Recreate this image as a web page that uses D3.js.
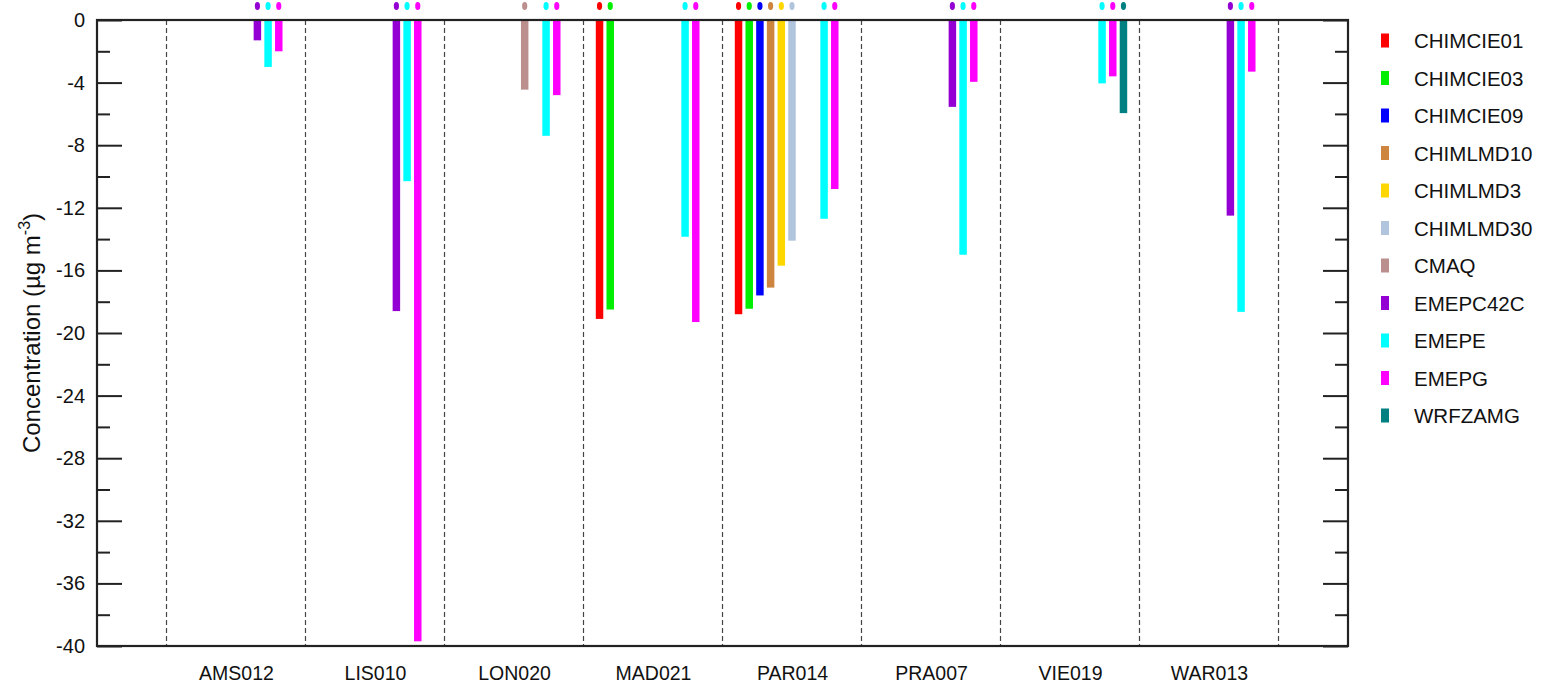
<!DOCTYPE html>
<html>
<head>
<meta charset="utf-8">
<script src="https://d3js.org/d3.v7.min.js"></script>
<style>
  body { margin: 0; background: #fff; }
  svg { font-family: "Liberation Sans", Arial, Helvetica, sans-serif; }
</style>
</head>
<body>
<svg id="vis"></svg>
<script>
    // stations along the x axis
    const stations = ['AMS012', 'LIS010', 'LON020', 'MAD021', 'PAR014', 'PRA007', 'VIE019', 'WAR013']
    const models = ['CHIMCIE01', 'CHIMCIE03', 'CHIMCIE09', 'CHIMLMD10', 'CHIMLMD3', 'CHIMLMD30',
                    'CMAQ', 'EMEPC42C', 'EMEPE', 'EMEPG', 'WRFZAMG']
    const colors = ['#ff0000', '#00ee00', '#0000ff', '#cd853f', '#ffd700', '#b0c4de',
                    '#bc8f8f', '#9400d3', '#00ffff', '#ff00ff', '#008080']

    // one value per station, null = no data
    const chimcie01 = [null, null, null, -19.1, -18.8, null, null, null]
    const chimcie03 = [null, null, null, -18.5, -18.45, null, null, null]
    const chimcie09 = [null, null, null, null, -17.6, null, null, null]
    const chimlmd10 = [null, null, null, null, -17.1, null, null, null]
    const chimlmd3 = [null, null, null, null, -15.7, null, null, null]
    const chimlmd30 = [null, null, null, null, -14.1, null, null, null]
    const cmaq = [null, null, -4.45, null, null, null, null, null]
    const emepc42c = [-1.3, -18.6, null, null, null, -5.55, null, -12.5]
    const emepe = [-3.0, -10.3, -7.4, -13.85, -12.7, -15.0, -4.05, -18.65]
    const emepg = [-2.0, -39.7, -4.8, -19.3, -10.8, -3.95, -3.6, -3.3]
    const wrfzamg = [null, null, null, null, null, null, -5.95, null]
    const series = [chimcie01, chimcie03, chimcie09, chimlmd10, chimlmd3, chimlmd30,
                    cmaq, emepc42c, emepe, emepg, wrfzamg]

    const yMajor = [-40, -36, -32, -28, -24, -20, -16, -12, -8, -4, 0]
    const yMinor = [-38, -34, -30, -26, -22, -18, -14, -10, -6, -2]

    const W = 1544, H = 687
    const svg = d3.select('#vis').attr('width', W).attr('height', H)

    const pLeft = 97, pRight = 1348, pTop = 20, pBottom = 646

    // separators sit on integers, stations in between
    const x = d3.scaleLinear().domain([-0.5, stations.length + 0.5]).range([pLeft, pRight])
    const y = d3.scaleLinear().domain([-40, 0]).range([pBottom, pTop])

    // dashed separators
    svg.append('g')
        .selectAll('line')
        .data(d3.range(0, stations.length + 1))
        .enter().append('line')
        .attr('x1', d => x(d)).attr('x2', d => x(d))
        .attr('y1', pTop).attr('y2', pBottom)
        .attr('stroke', '#444')
        .attr('stroke-width', 1.2)
        .attr('stroke-dasharray', '5,3')

    // flatten the data into bars
    const bars = []
    series.forEach((vals, m) => {
        vals.forEach((v, s) => {
            if (v !== null) bars.push({model: models[m], color: colors[m], station: s, value: v})
        })
    })

    const slot = d3.scaleBand().domain(models).range([0, 1]).paddingInner(0.3).paddingOuter(1.15)
    const barX = d => x(d.station) + slot(d.model) * (x(1) - x(0))
    const barW = slot.bandwidth() * (x(1) - x(0))

    svg.append('g')
        .selectAll('rect')
        .data(bars)
        .enter().append('rect')
        .attr('x', barX)
        .attr('y', y(0))
        .attr('width', barW)
        .attr('height', d => y(d.value) - y(0))
        .attr('fill', d => d.color)

    // little markers above each bar
    svg.append('g')
        .selectAll('ellipse')
        .data(bars)
        .enter().append('ellipse')
        .attr('cx', d => barX(d) + barW / 2)
        .attr('cy', 6)
        .attr('rx', 2.6)
        .attr('ry', 4)
        .attr('fill', d => d.color)

    // axes: ticks point inward on both sides
    const fmt = d => String(d)
    svg.append('g')
        .attr('transform', `translate(${pLeft},0)`)
        .call(d3.axisLeft(y).tickValues(yMajor).tickFormat(fmt).tickSizeInner(-25).tickSizeOuter(0).tickPadding(12))
        .call(g => g.select('.domain').remove())
        .call(g => g.selectAll('.tick line').attr('stroke', '#222').attr('stroke-width', 2))
        .call(g => g.selectAll('text').attr('font-size', 20).attr('fill', '#111').attr('font-family', null))
    svg.append('g')
        .attr('transform', `translate(${pLeft},0)`)
        .call(d3.axisLeft(y).tickValues(yMinor).tickFormat('').tickSizeInner(-13).tickSizeOuter(0))
        .call(g => g.select('.domain').remove())
        .call(g => g.selectAll('.tick line').attr('stroke', '#222').attr('stroke-width', 2))
    svg.append('g')
        .attr('transform', `translate(${pRight},0)`)
        .call(d3.axisRight(y).tickValues(yMajor).tickFormat('').tickSizeInner(-25).tickSizeOuter(0))
        .call(g => g.select('.domain').remove())
        .call(g => g.selectAll('.tick line').attr('stroke', '#222').attr('stroke-width', 2))
    svg.append('g')
        .attr('transform', `translate(${pRight},0)`)
        .call(d3.axisRight(y).tickValues(yMinor).tickFormat('').tickSizeInner(-13).tickSizeOuter(0))
        .call(g => g.select('.domain').remove())
        .call(g => g.selectAll('.tick line').attr('stroke', '#222').attr('stroke-width', 2))

    // station labels
    svg.append('g')
        .attr('transform', `translate(0,${pBottom})`)
        .call(d3.axisBottom(x).tickValues(stations.map((s, i) => i + 0.5))
            .tickFormat((d, i) => stations[i]).tickSize(0).tickPadding(20))
        .call(g => g.select('.domain').remove())
        .call(g => g.selectAll('text').attr('font-size', 19.5).attr('fill', '#111').attr('font-family', null))

    // frame
    svg.append('rect')
        .attr('x', pLeft).attr('y', pTop)
        .attr('width', pRight - pLeft).attr('height', pBottom - pTop)
        .attr('fill', 'none')
        .attr('stroke', '#222')
        .attr('stroke-width', 2.2)

    // y title
    const title = svg.append('text')
        .attr('transform', `translate(40,${(pTop + pBottom) / 2}) rotate(-90)`)
        .attr('text-anchor', 'middle')
        .attr('font-size', 24)
        .attr('fill', '#111')
    title.append('tspan').text('Concentration (µg m')
    title.append('tspan').attr('font-size', 16).attr('dy', -10).text('-3')
    title.append('tspan').attr('dy', 10).text(')')

    // legend
    const legend = svg.append('g')
        .selectAll('g')
        .data(models)
        .enter().append('g')
        .attr('transform', (d, i) => `translate(1381,${40.5 + i * 37.5})`)
    legend.append('rect')
        .attr('x', 0).attr('y', -7)
        .attr('width', 8).attr('height', 14)
        .attr('fill', (d, i) => colors[i])
    legend.append('text')
        .attr('x', 33).attr('y', 7.5)
        .attr('font-size', 20.5)
        .attr('fill', '#111')
        .text(d => d)
</script>
</body>
</html>
